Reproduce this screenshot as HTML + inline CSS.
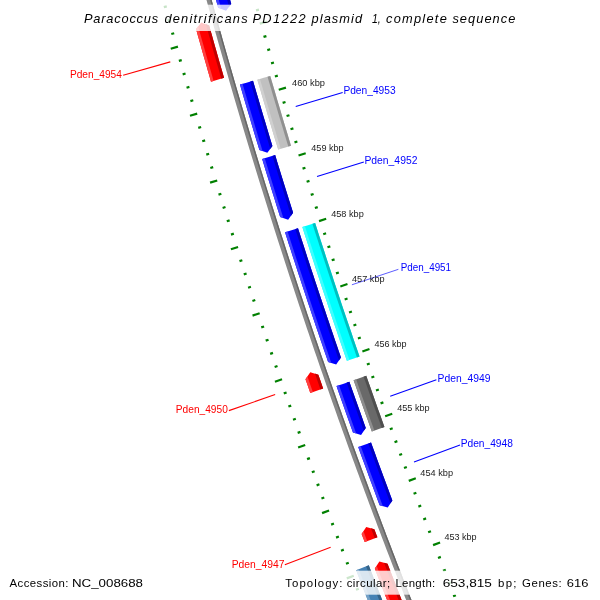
<!DOCTYPE html>
<html><head><meta charset="utf-8"><style>
html,body{margin:0;padding:0;background:#fff;}
svg{display:block;will-change:transform;}
text{font-family:"Liberation Sans",sans-serif;}
</style></head><body>
<svg width="600" height="600" viewBox="0 0 600 600">
<rect width="600" height="600" fill="#fff"/>
<polygon points="194.24,-45.34 195.78,-39.54 197.33,-33.74 198.89,-27.95 200.45,-22.15 202.02,-16.36 203.60,-10.57 205.18,-4.77 206.76,1.01 208.36,6.80 209.96,12.59 211.56,18.37 213.17,24.15 214.79,29.94 216.41,35.71 218.03,41.49 219.67,47.27 221.31,53.04 222.95,58.82 224.60,64.59 226.26,70.36 227.92,76.12 229.59,81.89 231.27,87.65 232.95,93.42 234.63,99.18 236.32,104.94 238.02,110.69 239.73,116.45 241.44,122.20 243.15,127.96 244.87,133.71 246.60,139.45 248.33,145.20 250.07,150.95 251.81,156.69 253.56,162.43 255.32,168.17 257.08,173.91 258.85,179.65 260.62,185.38 262.40,191.11 264.19,196.84 265.98,202.57 267.78,208.30 269.58,214.03 271.39,219.75 273.20,225.47 275.02,231.19 276.85,236.91 278.68,242.63 280.51,248.34 282.36,254.05 284.21,259.76 286.06,265.47 287.92,271.18 289.79,276.89 291.66,282.59 293.54,288.29 295.42,293.99 297.31,299.69 299.21,305.38 301.11,311.08 303.01,316.77 304.93,322.46 306.84,328.14 308.77,333.83 310.70,339.51 312.63,345.20 314.57,350.88 316.52,356.55 318.47,362.23 320.43,367.90 322.40,373.58 324.37,379.25 326.34,384.91 328.32,390.58 330.31,396.24 332.30,401.91 334.30,407.57 336.31,413.22 338.32,418.88 340.33,424.53 342.36,430.19 344.38,435.84 346.42,441.48 348.46,447.13 350.50,452.77 352.55,458.41 354.61,464.05 356.67,469.69 358.74,475.33 360.81,480.96 362.89,486.59 364.97,492.22 367.06,497.85 369.16,503.47 371.26,509.09 373.37,514.71 375.48,520.33 377.60,525.95 379.72,531.56 381.85,537.17 383.99,542.78 386.13,548.39 388.28,554.00 390.43,559.60 392.59,565.20 394.75,570.80 396.92,576.40 399.10,581.99 401.28,587.58 403.47,593.17 405.66,598.76 407.86,604.35 410.06,609.93 412.27,615.51 414.49,621.09 416.71,626.67 418.93,632.24 421.17,637.81 423.40,643.38 425.65,648.95 427.90,654.52 430.15,660.08 432.41,665.64 437.04,663.75 434.78,658.20 432.53,652.64 430.28,647.08 428.04,641.52 425.81,635.95 423.58,630.38 421.35,624.81 419.13,619.24 416.92,613.67 414.71,608.09 412.51,602.51 410.31,596.93 408.12,591.35 405.94,585.76 403.76,580.18 401.58,574.59 399.42,568.99 397.25,563.40 395.10,557.80 392.95,552.21 390.80,546.61 388.66,541.00 386.53,535.40 384.40,529.79 382.28,524.18 380.16,518.57 378.05,512.96 375.94,507.34 373.84,501.72 371.75,496.10 369.66,490.48 367.58,484.86 365.50,479.23 363.43,473.60 361.36,467.97 359.30,462.34 357.25,456.70 355.20,451.07 353.16,445.43 351.12,439.79 349.09,434.14 347.06,428.50 345.04,422.85 343.03,417.20 341.02,411.55 339.02,405.90 337.02,400.24 335.03,394.59 333.04,388.93 331.06,383.27 329.09,377.60 327.12,371.94 325.16,366.27 323.20,360.60 321.25,354.93 319.31,349.26 317.37,343.58 315.43,337.90 313.50,332.23 311.58,326.54 309.66,320.86 307.75,315.18 305.85,309.49 303.95,303.80 302.06,298.11 300.17,292.42 298.29,286.72 296.41,281.03 294.54,275.33 292.67,269.63 290.82,263.93 288.96,258.22 287.12,252.52 285.27,246.81 283.44,241.10 281.61,235.39 279.78,229.67 277.97,223.96 276.15,218.24 274.35,212.52 272.55,206.80 270.75,201.08 268.96,195.36 267.18,189.63 265.40,183.90 263.63,178.17 261.86,172.44 260.10,166.71 258.35,160.97 256.60,155.24 254.85,149.50 253.12,143.76 251.39,138.01 249.66,132.27 247.94,126.52 246.23,120.78 244.52,115.03 242.82,109.28 241.12,103.52 239.43,97.77 237.75,92.01 236.07,86.26 234.39,80.50 232.73,74.74 231.07,68.97 229.41,63.21 227.76,57.44 226.12,51.67 224.48,45.91 222.85,40.13 221.22,34.36 219.60,28.59 217.99,22.81 216.38,17.03 214.77,11.25 213.18,5.47 211.59,-0.31 210.00,-6.09 208.42,-11.88 206.85,-17.67 205.28,-23.46 203.72,-29.25 202.16,-35.04 200.61,-40.83 199.07,-46.63" fill="#888888"/>
<polygon points="194.24,-45.34 195.78,-39.54 197.33,-33.74 198.89,-27.95 200.45,-22.15 202.02,-16.36 203.60,-10.57 205.18,-4.77 206.76,1.01 208.36,6.80 209.96,12.59 211.56,18.37 213.17,24.15 214.79,29.94 216.41,35.71 218.03,41.49 219.67,47.27 221.31,53.04 222.95,58.82 224.60,64.59 226.26,70.36 227.92,76.12 229.59,81.89 231.27,87.65 232.95,93.42 234.63,99.18 236.32,104.94 238.02,110.69 239.73,116.45 241.44,122.20 243.15,127.96 244.87,133.71 246.60,139.45 248.33,145.20 250.07,150.95 251.81,156.69 253.56,162.43 255.32,168.17 257.08,173.91 258.85,179.65 260.62,185.38 262.40,191.11 264.19,196.84 265.98,202.57 267.78,208.30 269.58,214.03 271.39,219.75 273.20,225.47 275.02,231.19 276.85,236.91 278.68,242.63 280.51,248.34 282.36,254.05 284.21,259.76 286.06,265.47 287.92,271.18 289.79,276.89 291.66,282.59 293.54,288.29 295.42,293.99 297.31,299.69 299.21,305.38 301.11,311.08 303.01,316.77 304.93,322.46 306.84,328.14 308.77,333.83 310.70,339.51 312.63,345.20 314.57,350.88 316.52,356.55 318.47,362.23 320.43,367.90 322.40,373.58 324.37,379.25 326.34,384.91 328.32,390.58 330.31,396.24 332.30,401.91 334.30,407.57 336.31,413.22 338.32,418.88 340.33,424.53 342.36,430.19 344.38,435.84 346.42,441.48 348.46,447.13 350.50,452.77 352.55,458.41 354.61,464.05 356.67,469.69 358.74,475.33 360.81,480.96 362.89,486.59 364.97,492.22 367.06,497.85 369.16,503.47 371.26,509.09 373.37,514.71 375.48,520.33 377.60,525.95 379.72,531.56 381.85,537.17 383.99,542.78 386.13,548.39 388.28,554.00 390.43,559.60 392.59,565.20 394.75,570.80 396.92,576.40 399.10,581.99 401.28,587.58 403.47,593.17 405.66,598.76 407.86,604.35 410.06,609.93 412.27,615.51 414.49,621.09 416.71,626.67 418.93,632.24 421.17,637.81 423.40,643.38 425.65,648.95 427.90,654.52 430.15,660.08 432.41,665.64 432.41,665.64 430.15,660.08 427.90,654.52 425.65,648.95 423.40,643.38 421.17,637.81 418.93,632.24 416.71,626.67 414.49,621.09 412.27,615.51 410.06,609.93 407.86,604.35 405.66,598.76 403.47,593.17 401.28,587.58 399.10,581.99 396.92,576.40 394.75,570.80 392.59,565.20 390.43,559.60 388.28,554.00 386.13,548.39 383.99,542.78 381.85,537.17 379.72,531.56 377.60,525.95 375.48,520.33 373.37,514.71 371.26,509.09 369.16,503.47 367.06,497.85 364.97,492.22 362.89,486.59 360.81,480.96 358.74,475.33 356.67,469.69 354.61,464.05 352.55,458.41 350.50,452.77 348.46,447.13 346.42,441.48 344.38,435.84 342.36,430.19 340.33,424.53 338.32,418.88 336.31,413.22 334.30,407.57 332.30,401.91 330.31,396.24 328.32,390.58 326.34,384.91 324.37,379.25 322.40,373.58 320.43,367.90 318.47,362.23 316.52,356.55 314.57,350.88 312.63,345.20 310.70,339.51 308.77,333.83 306.84,328.14 304.93,322.46 303.01,316.77 301.11,311.08 299.21,305.38 297.31,299.69 295.42,293.99 293.54,288.29 291.66,282.59 289.79,276.89 287.92,271.18 286.06,265.47 284.21,259.76 282.36,254.05 280.51,248.34 278.68,242.63 276.85,236.91 275.02,231.19 273.20,225.47 271.39,219.75 269.58,214.03 267.78,208.30 265.98,202.57 264.19,196.84 262.40,191.11 260.62,185.38 258.85,179.65 257.08,173.91 255.32,168.17 253.56,162.43 251.81,156.69 250.07,150.95 248.33,145.20 246.60,139.45 244.87,133.71 243.15,127.96 241.44,122.20 239.73,116.45 238.02,110.69 236.32,104.94 234.63,99.18 232.95,93.42 231.27,87.65 229.59,81.89 227.92,76.12 226.26,70.36 224.60,64.59 222.95,58.82 221.31,53.04 219.67,47.27 218.03,41.49 216.41,35.71 214.79,29.94 213.17,24.15 211.56,18.37 209.96,12.59 208.36,6.80 206.76,1.01 205.18,-4.77 203.60,-10.57 202.02,-16.36 200.45,-22.15 198.89,-27.95 197.33,-33.74 195.78,-39.54 194.24,-45.34" fill="#a6a6a6"/>
<polygon points="435.65,664.32 437.04,663.75 434.78,658.20 432.53,652.64 430.28,647.08 428.04,641.52 425.81,635.95 423.58,630.38 421.35,624.81 419.13,619.24 416.92,613.67 414.71,608.09 412.51,602.51 410.31,596.93 408.12,591.35 405.94,585.76 403.76,580.18 401.58,574.59 399.42,568.99 397.25,563.40 395.10,557.80 392.95,552.21 390.80,546.61 388.66,541.00 386.53,535.40 384.40,529.79 382.28,524.18 380.16,518.57 378.05,512.96 375.94,507.34 373.84,501.72 371.75,496.10 369.66,490.48 367.58,484.86 365.50,479.23 363.43,473.60 361.36,467.97 359.30,462.34 357.25,456.70 355.20,451.07 353.16,445.43 351.12,439.79 349.09,434.14 347.06,428.50 345.04,422.85 343.03,417.20 341.02,411.55 339.02,405.90 337.02,400.24 335.03,394.59 333.04,388.93 331.06,383.27 329.09,377.60 327.12,371.94 325.16,366.27 323.20,360.60 321.25,354.93 319.31,349.26 317.37,343.58 315.43,337.90 313.50,332.23 311.58,326.54 309.66,320.86 307.75,315.18 305.85,309.49 303.95,303.80 302.06,298.11 300.17,292.42 298.29,286.72 296.41,281.03 294.54,275.33 292.67,269.63 290.82,263.93 288.96,258.22 287.12,252.52 285.27,246.81 283.44,241.10 281.61,235.39 279.78,229.67 277.97,223.96 276.15,218.24 274.35,212.52 272.55,206.80 270.75,201.08 268.96,195.36 267.18,189.63 265.40,183.90 263.63,178.17 261.86,172.44 260.10,166.71 258.35,160.97 256.60,155.24 254.85,149.50 253.12,143.76 251.39,138.01 249.66,132.27 247.94,126.52 246.23,120.78 244.52,115.03 242.82,109.28 241.12,103.52 239.43,97.77 237.75,92.01 236.07,86.26 234.39,80.50 232.73,74.74 231.07,68.97 229.41,63.21 227.76,57.44 226.12,51.67 224.48,45.91 222.85,40.13 221.22,34.36 219.60,28.59 217.99,22.81 216.38,17.03 214.77,11.25 213.18,5.47 211.59,-0.31 210.00,-6.09 208.42,-11.88 206.85,-17.67 205.28,-23.46 203.72,-29.25 202.16,-35.04 200.61,-40.83 199.07,-46.63 197.62,-46.24 199.16,-40.45 200.71,-34.65 202.27,-28.86 203.83,-23.06 205.40,-17.27 206.97,-11.49 208.55,-5.70 210.14,0.09 211.73,5.87 213.33,11.65 214.93,17.43 216.54,23.21 218.16,28.99 219.78,34.77 221.40,40.54 223.04,46.31 224.67,52.08 226.32,57.85 227.97,63.62 229.62,69.39 231.29,75.15 232.95,80.91 234.63,86.68 236.31,92.43 237.99,98.19 239.68,103.95 241.38,109.70 243.08,115.45 244.79,121.20 246.50,126.95 248.22,132.70 249.95,138.45 251.68,144.19 253.42,149.93 255.16,155.67 256.91,161.41 258.67,167.15 260.43,172.88 262.19,178.61 263.97,184.35 265.74,190.07 267.53,195.80 269.32,201.53 271.11,207.25 272.92,212.97 274.72,218.69 276.54,224.41 278.35,230.13 280.18,235.84 282.01,241.56 283.85,247.27 285.69,252.98 287.54,258.68 289.39,264.39 291.25,270.09 293.11,275.80 294.98,281.50 296.86,287.19 298.74,292.89 300.63,298.58 302.53,304.28 304.43,309.97 306.33,315.65 308.24,321.34 310.16,327.02 312.08,332.71 314.01,338.39 315.95,344.07 317.89,349.74 319.83,355.42 321.78,361.09 323.74,366.76 325.70,372.43 327.67,378.10 329.65,383.76 331.63,389.42 333.61,395.08 335.61,400.74 337.60,406.40 339.61,412.05 341.62,417.71 343.63,423.36 345.65,429.01 347.68,434.65 349.71,440.30 351.75,445.94 353.79,451.58 355.84,457.22 357.89,462.85 359.95,468.49 362.02,474.12 364.09,479.75 366.17,485.38 368.25,491.00 370.34,496.63 372.44,502.25 374.54,507.87 376.64,513.48 378.76,519.10 380.87,524.71 383.00,530.32 385.13,535.93 387.26,541.54 389.40,547.14 391.55,552.74 393.70,558.34 395.85,563.94 398.02,569.54 400.19,575.13 402.36,580.72 404.54,586.31 406.73,591.90 408.92,597.48 411.11,603.06 413.32,608.64 415.53,614.22 417.74,619.80 419.96,625.37 422.18,630.94 424.41,636.51 426.65,642.08 428.89,647.64 431.14,653.20 433.39,658.76" fill="#666666"/>
<polygon points="205.70,-38.06 207.46,-31.52 209.22,-24.99 210.98,-18.46 212.76,-11.94 214.54,-5.41 216.33,1.11 218.13,7.63 226.02,10.63 231.24,4.01 229.45,-2.50 227.66,-9.00 225.88,-15.51 224.11,-22.03 222.35,-28.54 220.59,-35.06 218.84,-41.57 212.27,-39.81" fill="#0000ff"/>
<polygon points="205.70,-38.06 207.46,-31.52 209.22,-24.99 210.98,-18.46 212.76,-11.94 214.54,-5.41 216.33,1.11 218.13,7.63 221.28,8.83 219.64,2.89 218.01,-3.06 216.38,-9.00 214.76,-14.95 213.14,-20.90 211.53,-26.85 209.93,-32.80 208.33,-38.76" fill="#4040ff"/>
<polygon points="229.04,6.79 231.24,4.01 229.45,-2.50 227.66,-9.00 225.88,-15.51 224.11,-22.03 222.35,-28.54 220.59,-35.06 218.84,-41.57 216.08,-40.83 217.68,-34.88 219.28,-28.92 220.90,-22.96 222.51,-17.01 224.14,-11.06 225.77,-5.11 227.40,0.84" fill="#0000bf"/>
<polygon points="201.26,22.38 196.05,29.03 197.69,34.89 199.33,40.74 200.98,46.58 202.63,52.43 204.29,58.28 205.96,64.12 207.63,69.96 209.31,75.80 210.99,81.64 217.52,79.75 224.05,77.87 222.38,72.04 220.70,66.21 219.03,60.39 217.37,54.56 215.72,48.72 214.07,42.89 212.42,37.05 210.78,31.22 209.15,25.38" fill="#ff0000"/>
<polygon points="198.13,26.37 196.05,29.03 197.69,34.89 199.33,40.74 200.98,46.58 202.63,52.43 204.29,58.28 205.96,64.12 207.63,69.96 209.31,75.80 210.99,81.64 213.60,80.89 211.86,74.84 210.12,68.78 208.39,62.73 206.66,56.68 204.94,50.62 203.23,44.56 201.53,38.50 199.83,32.44" fill="#ff4040"/>
<polygon points="221.31,78.66 224.05,77.87 222.38,72.04 220.70,66.21 219.03,60.39 217.37,54.56 215.72,48.72 214.07,42.89 212.42,37.05 210.78,31.22 209.15,25.38 205.84,24.12 207.53,30.19 209.23,36.25 210.94,42.32 212.65,48.38 214.37,54.44 216.09,60.50 217.83,66.55 219.57,72.61" fill="#bf0000"/>
<polygon points="239.96,84.60 241.70,90.56 243.44,96.51 245.19,102.46 246.94,108.41 248.70,114.36 250.47,120.30 252.24,126.24 254.02,132.19 255.81,138.13 257.60,144.06 259.40,150.00 267.35,152.80 272.41,146.05 270.62,140.13 268.83,134.20 267.05,128.28 265.27,122.35 263.50,116.42 261.74,110.49 259.98,104.56 258.23,98.62 256.49,92.68 254.75,86.74 253.02,80.80 246.49,82.70" fill="#0000ff"/>
<polygon points="239.96,84.60 241.70,90.56 243.44,96.51 245.19,102.46 246.94,108.41 248.70,114.36 250.47,120.30 252.24,126.24 254.02,132.19 255.81,138.13 257.60,144.06 259.40,150.00 262.58,151.12 260.73,145.01 258.88,138.90 257.04,132.79 255.21,126.68 253.39,120.57 251.57,114.45 249.75,108.33 247.95,102.21 246.15,96.09 244.36,89.97 242.57,83.84" fill="#4040ff"/>
<polygon points="270.29,148.88 272.41,146.05 270.62,140.13 268.83,134.20 267.05,128.28 265.27,122.35 263.50,116.42 261.74,110.49 259.98,104.56 258.23,98.62 256.49,92.68 254.75,86.74 253.02,80.80 250.28,81.60 252.06,87.73 253.85,93.85 255.65,99.97 257.46,106.09 259.27,112.21 261.09,118.33 262.92,124.44 264.75,130.56 266.59,136.67 268.43,142.78" fill="#0000bf"/>
<polygon points="257.37,79.64 259.07,85.48 260.78,91.32 262.49,97.16 264.21,102.99 265.94,108.82 267.67,114.65 269.41,120.48 271.15,126.31 272.91,132.14 274.66,137.96 276.42,143.78 278.19,149.60 284.60,147.65 291.01,145.70 289.25,139.89 287.49,134.08 285.74,128.27 283.99,122.46 282.25,116.65 280.51,110.83 278.79,105.01 277.06,99.19 275.35,93.37 273.64,87.55 271.93,81.73 270.23,75.90 263.80,77.77" fill="#c0c0c0"/>
<polygon points="257.37,79.64 259.07,85.48 260.78,91.32 262.49,97.16 264.21,102.99 265.94,108.82 267.67,114.65 269.41,120.48 271.15,126.31 272.91,132.14 274.66,137.96 276.42,143.78 278.19,149.60 280.76,148.82 278.99,143.00 277.23,137.18 275.47,131.36 273.72,125.54 271.98,119.72 270.24,113.89 268.51,108.06 266.78,102.23 265.06,96.40 263.35,90.57 261.64,84.73 259.94,78.89" fill="#d0d0d0"/>
<polygon points="288.32,146.52 291.01,145.70 289.25,139.89 287.49,134.08 285.74,128.27 283.99,122.46 282.25,116.65 280.51,110.83 278.79,105.01 277.06,99.19 275.35,93.37 273.64,87.55 271.93,81.73 270.23,75.90 267.53,76.69 269.23,82.51 270.94,88.34 272.65,94.17 274.37,99.99 276.09,105.81 277.82,111.63 279.55,117.45 281.29,123.27 283.04,129.08 284.80,134.90 286.55,140.71" fill="#909090"/>
<polygon points="262.16,159.08 263.93,164.87 265.71,170.67 267.50,176.47 269.29,182.26 271.08,188.05 272.89,193.84 274.70,199.62 276.51,205.41 278.33,211.19 280.16,216.97 288.15,219.68 293.12,212.87 291.30,207.10 289.48,201.33 287.67,195.56 285.87,189.79 284.07,184.01 282.28,178.23 280.49,172.45 278.71,166.67 276.94,160.89 275.17,155.11 268.66,157.09" fill="#0000ff"/>
<polygon points="262.16,159.08 263.93,164.87 265.71,170.67 267.50,176.47 269.29,182.26 271.08,188.05 272.89,193.84 274.70,199.62 276.51,205.41 278.33,211.19 280.16,216.97 283.35,218.06 281.47,212.09 279.58,206.12 277.71,200.15 275.84,194.17 273.98,188.19 272.12,182.22 270.27,176.24 268.43,170.25 266.59,164.27 264.76,158.28" fill="#4040ff"/>
<polygon points="291.03,215.73 293.12,212.87 291.30,207.10 289.48,201.33 287.67,195.56 285.87,189.79 284.07,184.01 282.28,178.23 280.49,172.45 278.71,166.67 276.94,160.89 275.17,155.11 272.43,155.94 274.27,161.93 276.10,167.91 277.95,173.90 279.80,179.88 281.65,185.86 283.52,191.84 285.39,197.81 287.26,203.79 289.14,209.76" fill="#0000bf"/>
<polygon points="285.03,232.30 286.92,238.22 288.82,244.13 290.73,250.04 292.64,255.95 294.56,261.86 296.48,267.76 298.41,273.67 300.35,279.57 302.29,285.47 304.24,291.36 306.20,297.26 308.16,303.15 310.13,309.04 312.10,314.93 314.08,320.82 316.07,326.71 318.06,332.59 320.06,338.47 322.07,344.35 324.08,350.22 326.09,356.10 328.12,361.97 336.17,364.47 340.97,357.53 338.95,351.68 336.94,345.81 334.93,339.95 332.93,334.09 330.94,328.22 328.95,322.35 326.97,316.48 325.00,310.60 323.03,304.73 321.06,298.85 319.11,292.97 317.15,287.09 315.21,281.21 313.27,275.32 311.34,269.43 309.41,263.54 307.49,257.65 305.58,251.76 303.67,245.86 301.77,239.96 299.87,234.06 297.99,228.16 291.51,230.23" fill="#0000ff"/>
<polygon points="285.03,232.30 286.92,238.22 288.82,244.13 290.73,250.04 292.64,255.95 294.56,261.86 296.48,267.76 298.41,273.67 300.35,279.57 302.29,285.47 304.24,291.36 306.20,297.26 308.16,303.15 310.13,309.04 312.10,314.93 314.08,320.82 316.07,326.71 318.06,332.59 320.06,338.47 322.07,344.35 324.08,350.22 326.09,356.10 328.12,361.97 331.34,362.97 329.37,357.28 327.42,351.58 325.46,345.88 323.52,340.18 321.57,334.47 319.64,328.77 317.71,323.06 315.78,317.35 313.87,311.64 311.95,305.92 310.05,300.21 308.15,294.49 306.25,288.77 304.36,283.05 302.48,277.33 300.60,271.60 298.73,265.87 296.86,260.15 295.00,254.41 293.15,248.68 291.30,242.95 289.46,237.21 287.62,231.47" fill="#4040ff"/>
<polygon points="338.96,360.45 340.97,357.53 338.95,351.68 336.94,345.81 334.93,339.95 332.93,334.09 330.94,328.22 328.95,322.35 326.97,316.48 325.00,310.60 323.03,304.73 321.06,298.85 319.11,292.97 317.15,287.09 315.21,281.21 313.27,275.32 311.34,269.43 309.41,263.54 307.49,257.65 305.58,251.76 303.67,245.86 301.77,239.96 299.87,234.06 297.99,228.16 295.27,229.03 297.10,234.77 298.94,240.50 300.79,246.23 302.64,251.96 304.50,257.69 306.37,263.41 308.24,269.13 310.11,274.86 311.99,280.58 313.88,286.29 315.78,292.01 317.68,297.72 319.58,303.43 321.49,309.14 323.41,314.85 325.33,320.56 327.26,326.26 329.20,331.96 331.14,337.66 333.08,343.36 335.03,349.06 336.99,354.75" fill="#0000bf"/>
<polygon points="302.36,227.08 304.23,232.92 306.11,238.75 307.99,244.59 309.88,250.42 311.77,256.25 313.67,262.08 315.57,267.91 317.49,273.73 319.40,279.56 321.33,285.38 323.26,291.20 325.19,297.01 327.13,302.83 329.08,308.64 331.04,314.45 333.00,320.26 334.96,326.07 336.93,331.87 338.91,337.68 340.90,343.48 342.89,349.27 344.88,355.07 346.89,360.87 353.22,358.67 359.55,356.48 357.55,350.70 355.56,344.92 353.57,339.13 351.59,333.35 349.62,327.56 347.65,321.76 345.69,315.97 343.74,310.17 341.79,304.38 339.84,298.58 337.91,292.77 335.97,286.97 334.05,281.17 332.13,275.36 330.22,269.55 328.31,263.74 326.41,257.92 324.51,252.11 322.62,246.29 320.74,240.47 318.86,234.65 316.99,228.82 315.13,223.00 308.75,225.04" fill="#00ffff"/>
<polygon points="302.36,227.08 304.23,232.92 306.11,238.75 307.99,244.59 309.88,250.42 311.77,256.25 313.67,262.08 315.57,267.91 317.49,273.73 319.40,279.56 321.33,285.38 323.26,291.20 325.19,297.01 327.13,302.83 329.08,308.64 331.04,314.45 333.00,320.26 334.96,326.07 336.93,331.87 338.91,337.68 340.90,343.48 342.89,349.27 344.88,355.07 346.89,360.87 349.42,359.99 347.42,354.20 345.42,348.40 343.43,342.61 341.45,336.81 339.47,331.01 337.50,325.21 335.54,319.40 333.58,313.60 331.62,307.79 329.68,301.98 327.74,296.16 325.80,290.35 323.87,284.53 321.95,278.72 320.03,272.90 318.12,267.07 316.22,261.25 314.32,255.42 312.43,249.59 310.54,243.76 308.66,237.93 306.78,232.10 304.92,226.26" fill="#40ffff"/>
<polygon points="356.89,357.40 359.55,356.48 357.55,350.70 355.56,344.92 353.57,339.13 351.59,333.35 349.62,327.56 347.65,321.76 345.69,315.97 343.74,310.17 341.79,304.38 339.84,298.58 337.91,292.77 335.97,286.97 334.05,281.17 332.13,275.36 330.22,269.55 328.31,263.74 326.41,257.92 324.51,252.11 322.62,246.29 320.74,240.47 318.86,234.65 316.99,228.82 315.13,223.00 312.45,223.85 314.31,229.68 316.18,235.51 318.06,241.33 319.95,247.16 321.84,252.98 323.73,258.79 325.63,264.61 327.54,270.43 329.46,276.24 331.38,282.05 333.30,287.86 335.24,293.66 337.17,299.47 339.12,305.27 341.07,311.07 343.03,316.87 344.99,322.67 346.96,328.46 348.93,334.25 350.91,340.04 352.90,345.83 354.89,351.62" fill="#00bfbf"/>
<polygon points="310.27,372.16 305.48,379.13 307.89,386.04 310.30,392.96 316.72,390.72 323.14,388.47 320.73,381.57 318.33,374.67" fill="#ff0000"/>
<polygon points="307.39,376.34 305.48,379.13 307.89,386.04 310.30,392.96 312.87,392.06 310.12,384.20" fill="#ff4040"/>
<polygon points="320.44,389.42 323.14,388.47 320.73,381.57 318.33,374.67 314.94,373.62 317.69,381.52" fill="#bf0000"/>
<polygon points="336.51,386.12 338.55,391.93 340.59,397.74 342.64,403.55 344.69,409.35 346.76,415.15 348.82,420.95 350.89,426.74 352.97,432.54 361.06,434.93 365.77,427.94 363.70,422.16 361.63,416.37 359.57,410.59 357.51,404.80 355.46,399.01 353.42,393.22 351.38,387.43 349.35,381.63 342.93,383.88" fill="#0000ff"/>
<polygon points="336.51,386.12 338.55,391.93 340.59,397.74 342.64,403.55 344.69,409.35 346.76,415.15 348.82,420.95 350.89,426.74 352.97,432.54 356.21,433.50 354.04,427.47 351.89,421.44 349.74,415.41 347.59,409.38 345.45,403.34 343.32,397.31 341.20,391.27 339.08,385.23" fill="#4040ff"/>
<polygon points="363.79,430.87 365.77,427.94 363.70,422.16 361.63,416.37 359.57,410.59 357.51,404.80 355.46,399.01 353.42,393.22 351.38,387.43 349.35,381.63 346.65,382.58 348.77,388.62 350.90,394.66 353.03,400.70 355.17,406.74 357.32,412.78 359.47,418.81 361.63,424.84" fill="#0000bf"/>
<polygon points="353.60,380.15 355.60,385.86 357.61,391.57 359.62,397.27 361.64,402.98 363.67,408.68 365.70,414.38 367.74,420.08 369.78,425.78 371.83,431.47 378.13,429.20 384.43,426.93 382.39,421.25 380.35,415.57 378.32,409.88 376.29,404.19 374.27,398.50 372.25,392.81 370.24,387.11 368.24,381.42 366.24,375.72 359.92,377.93" fill="#696969"/>
<polygon points="353.60,380.15 355.60,385.86 357.61,391.57 359.62,397.27 361.64,402.98 363.67,408.68 365.70,414.38 367.74,420.08 369.78,425.78 371.83,431.47 374.35,430.57 372.30,424.87 370.26,419.18 368.22,413.48 366.19,407.78 364.17,402.08 362.15,396.38 360.13,390.68 358.13,384.97 356.13,379.26" fill="#8e8e8e"/>
<polygon points="381.79,427.89 384.43,426.93 382.39,421.25 380.35,415.57 378.32,409.88 376.29,404.19 374.27,398.50 372.25,392.81 370.24,387.11 368.24,381.42 366.24,375.72 363.59,376.65 365.59,382.35 367.59,388.05 369.60,393.75 371.62,399.44 373.64,405.13 375.67,410.82 377.70,416.51 379.74,422.20" fill="#4f4f4f"/>
<polygon points="358.23,447.10 360.34,452.92 362.46,458.74 364.59,464.56 366.72,470.37 368.85,476.18 371.00,481.99 373.15,487.80 375.30,493.61 377.46,499.41 379.63,505.21 387.75,507.50 392.37,500.45 390.21,494.66 388.05,488.87 385.90,483.08 383.75,477.28 381.62,471.48 379.48,465.69 377.36,459.88 375.24,454.08 373.12,448.27 371.02,442.47 364.62,444.78" fill="#0000ff"/>
<polygon points="358.23,447.10 360.34,452.92 362.46,458.74 364.59,464.56 366.72,470.37 368.85,476.18 371.00,481.99 373.15,487.80 375.30,493.61 377.46,499.41 379.63,505.21 382.88,506.13 380.64,500.15 378.41,494.16 376.18,488.17 373.96,482.18 371.75,476.18 369.55,470.18 367.35,464.19 365.15,458.18 362.97,452.18 360.79,446.17" fill="#4040ff"/>
<polygon points="390.43,503.41 392.37,500.45 390.21,494.66 388.05,488.87 385.90,483.08 383.75,477.28 381.62,471.48 379.48,465.69 377.36,459.88 375.24,454.08 373.12,448.27 371.02,442.47 368.33,443.44 370.51,449.45 372.70,455.45 374.89,461.46 377.09,467.46 379.30,473.45 381.51,479.45 383.73,485.44 385.96,491.43 388.19,497.42" fill="#0000bf"/>
<polygon points="366.21,526.93 361.62,534.02 364.68,542.09 371.04,539.68 377.39,537.26 374.34,529.21" fill="#ff0000"/>
<polygon points="363.46,531.18 361.62,534.02 364.68,542.09 367.22,541.13" fill="#ff4040"/>
<polygon points="374.72,538.28 377.39,537.26 374.34,529.21 370.93,528.26" fill="#bf0000"/>
<polygon points="379.37,561.49 374.83,568.61 377.06,574.40 379.30,580.18 381.54,585.96 383.79,591.73 386.05,597.51 388.31,603.28 390.58,609.05 392.85,614.81 395.13,620.58 397.42,626.34 399.71,632.10 402.01,637.86 404.31,643.61 406.62,649.36 408.94,655.11 411.26,660.86 413.59,666.61 415.93,672.35 422.22,669.79 428.52,667.22 426.19,661.49 423.87,655.76 421.55,650.03 419.24,644.29 416.94,638.55 414.64,632.81 412.35,627.06 410.06,621.32 407.78,615.57 405.50,609.82 403.23,604.07 400.97,598.31 398.71,592.55 396.46,586.79 394.22,581.03 391.98,575.26 389.75,569.49 387.52,563.72" fill="#ff0000"/>
<polygon points="376.65,565.76 374.83,568.61 377.06,574.40 379.30,580.18 381.54,585.96 383.79,591.73 386.05,597.51 388.31,603.28 390.58,609.05 392.85,614.81 395.13,620.58 397.42,626.34 399.71,632.10 402.01,637.86 404.31,643.61 406.62,649.36 408.94,655.11 411.26,660.86 413.59,666.61 415.93,672.35 418.45,671.32 416.07,665.48 413.70,659.64 411.34,653.79 408.98,647.94 406.63,642.08 404.29,636.23 401.95,630.37 399.62,624.51 397.29,618.64 394.97,612.78 392.66,606.91 390.35,601.04 388.05,595.17 385.76,589.29 383.47,583.41 381.19,577.53 378.91,571.65" fill="#ff4040"/>
<polygon points="425.88,668.30 428.52,667.22 426.19,661.49 423.87,655.76 421.55,650.03 419.24,644.29 416.94,638.55 414.64,632.81 412.35,627.06 410.06,621.32 407.78,615.57 405.50,609.82 403.23,604.07 400.97,598.31 398.71,592.55 396.46,586.79 394.22,581.03 391.98,575.26 389.75,569.49 387.52,563.72 384.10,562.79 386.37,568.67 388.64,574.55 390.92,580.43 393.21,586.30 395.50,592.18 397.80,598.05 400.10,603.92 402.42,609.78 404.73,615.64 407.06,621.50 409.39,627.36 411.73,633.22 414.07,639.07 416.42,644.92 418.77,650.77 421.14,656.62 423.50,662.46" fill="#bf0000"/>
<polygon points="356.15,570.20 358.37,575.96 360.59,581.71 362.82,587.46 365.05,593.21 367.29,598.95 369.53,604.69 371.78,610.43 374.04,616.17 376.30,621.91 378.57,627.64 380.84,633.37 383.13,639.10 385.41,644.83 387.70,650.55 390.00,656.27 392.31,661.99 394.62,667.71 396.93,673.42 399.25,679.14 405.51,676.59 411.76,674.05 409.44,668.35 407.13,662.65 404.83,656.94 402.53,651.24 400.23,645.53 397.95,639.82 395.67,634.10 393.39,628.39 391.12,622.67 388.86,616.95 386.60,611.23 384.35,605.50 382.10,599.77 379.86,594.04 377.63,588.31 375.40,582.58 373.18,576.84 370.96,571.10 368.75,565.36 362.45,567.78" fill="#4682b4"/>
<polygon points="356.15,570.20 358.37,575.96 360.59,581.71 362.82,587.46 365.05,593.21 367.29,598.95 369.53,604.69 371.78,610.43 374.04,616.17 376.30,621.91 378.57,627.64 380.84,633.37 383.13,639.10 385.41,644.83 387.70,650.55 390.00,656.27 392.31,661.99 394.62,667.71 396.93,673.42 399.25,679.14 401.76,678.12 399.43,672.41 397.12,666.70 394.81,660.98 392.51,655.27 390.21,649.55 387.92,643.83 385.63,638.10 383.35,632.38 381.08,626.65 378.81,620.92 376.55,615.18 374.30,609.45 372.05,603.71 369.80,597.97 367.56,592.23 365.33,586.48 363.11,580.74 360.89,574.99 358.67,569.23" fill="#74a1c7"/>
<polygon points="409.13,675.12 411.76,674.05 409.44,668.35 407.13,662.65 404.83,656.94 402.53,651.24 400.23,645.53 397.95,639.82 395.67,634.10 393.39,628.39 391.12,622.67 388.86,616.95 386.60,611.23 384.35,605.50 382.10,599.77 379.86,594.04 377.63,588.31 375.40,582.58 373.18,576.84 370.96,571.10 368.75,565.36 366.11,566.38 368.32,572.12 370.54,577.86 372.76,583.60 374.99,589.34 377.22,595.07 379.46,600.81 381.71,606.54 383.96,612.26 386.22,617.99 388.49,623.71 390.76,629.43 393.03,635.15 395.31,640.87 397.60,646.58 399.90,652.29 402.20,658.00 404.50,663.71 406.81,669.41" fill="#346287"/>
<line x1="248.74" y1="-16.06" x2="251.64" y2="-16.85" stroke="#008000" stroke-width="2.2"/>
<line x1="166.76" y1="6.37" x2="163.87" y2="7.17" stroke="#008000" stroke-width="2.2"/>
<line x1="252.39" y1="-2.81" x2="255.28" y2="-3.61" stroke="#008000" stroke-width="2.2"/>
<line x1="170.45" y1="19.82" x2="167.56" y2="20.62" stroke="#008000" stroke-width="2.2"/>
<line x1="256.06" y1="10.43" x2="258.95" y2="9.63" stroke="#008000" stroke-width="2.2"/>
<line x1="174.18" y1="33.25" x2="171.29" y2="34.06" stroke="#008000" stroke-width="2.2"/>
<line x1="259.77" y1="23.67" x2="266.99" y2="21.64" stroke="#008000" stroke-width="2.2"/>
<line x1="177.94" y1="46.68" x2="170.72" y2="48.71" stroke="#008000" stroke-width="2.2"/>
<line x1="263.50" y1="36.89" x2="266.39" y2="36.07" stroke="#008000" stroke-width="2.2"/>
<line x1="181.73" y1="60.09" x2="178.84" y2="60.91" stroke="#008000" stroke-width="2.2"/>
<line x1="267.27" y1="50.11" x2="270.15" y2="49.28" stroke="#008000" stroke-width="2.2"/>
<line x1="185.55" y1="73.50" x2="182.66" y2="74.33" stroke="#008000" stroke-width="2.2"/>
<line x1="271.06" y1="63.32" x2="273.95" y2="62.49" stroke="#008000" stroke-width="2.2"/>
<line x1="189.40" y1="86.90" x2="186.52" y2="87.73" stroke="#008000" stroke-width="2.2"/>
<line x1="274.89" y1="76.52" x2="277.77" y2="75.68" stroke="#008000" stroke-width="2.2"/>
<line x1="193.28" y1="100.29" x2="190.40" y2="101.13" stroke="#008000" stroke-width="2.2"/>
<line x1="278.75" y1="89.71" x2="285.95" y2="87.59" stroke="#008000" stroke-width="2.2"/>
<line x1="197.20" y1="113.67" x2="190.00" y2="115.78" stroke="#008000" stroke-width="2.2"/>
<line x1="282.64" y1="102.89" x2="285.52" y2="102.03" stroke="#008000" stroke-width="2.2"/>
<line x1="201.15" y1="127.04" x2="198.27" y2="127.89" stroke="#008000" stroke-width="2.2"/>
<line x1="286.56" y1="116.06" x2="289.44" y2="115.20" stroke="#008000" stroke-width="2.2"/>
<line x1="205.12" y1="140.40" x2="202.25" y2="141.26" stroke="#008000" stroke-width="2.2"/>
<line x1="290.51" y1="129.22" x2="293.39" y2="128.35" stroke="#008000" stroke-width="2.2"/>
<line x1="209.13" y1="153.76" x2="206.26" y2="154.62" stroke="#008000" stroke-width="2.2"/>
<line x1="294.50" y1="142.37" x2="297.37" y2="141.50" stroke="#008000" stroke-width="2.2"/>
<line x1="213.17" y1="167.10" x2="210.30" y2="167.97" stroke="#008000" stroke-width="2.2"/>
<line x1="298.51" y1="155.52" x2="305.68" y2="153.32" stroke="#008000" stroke-width="2.2"/>
<line x1="217.24" y1="180.43" x2="210.07" y2="182.63" stroke="#008000" stroke-width="2.2"/>
<line x1="302.55" y1="168.65" x2="305.42" y2="167.77" stroke="#008000" stroke-width="2.2"/>
<line x1="221.34" y1="193.76" x2="218.48" y2="194.64" stroke="#008000" stroke-width="2.2"/>
<line x1="306.63" y1="181.78" x2="309.49" y2="180.88" stroke="#008000" stroke-width="2.2"/>
<line x1="225.48" y1="207.07" x2="222.61" y2="207.96" stroke="#008000" stroke-width="2.2"/>
<line x1="310.73" y1="194.89" x2="313.59" y2="193.99" stroke="#008000" stroke-width="2.2"/>
<line x1="229.64" y1="220.38" x2="226.78" y2="221.28" stroke="#008000" stroke-width="2.2"/>
<line x1="314.87" y1="208.00" x2="317.73" y2="207.09" stroke="#008000" stroke-width="2.2"/>
<line x1="233.84" y1="233.67" x2="230.98" y2="234.58" stroke="#008000" stroke-width="2.2"/>
<line x1="319.03" y1="221.09" x2="326.18" y2="218.81" stroke="#008000" stroke-width="2.2"/>
<line x1="238.06" y1="246.96" x2="230.92" y2="249.24" stroke="#008000" stroke-width="2.2"/>
<line x1="323.23" y1="234.18" x2="326.09" y2="233.26" stroke="#008000" stroke-width="2.2"/>
<line x1="242.32" y1="260.23" x2="239.47" y2="261.15" stroke="#008000" stroke-width="2.2"/>
<line x1="327.46" y1="247.26" x2="330.31" y2="246.33" stroke="#008000" stroke-width="2.2"/>
<line x1="246.61" y1="273.50" x2="243.76" y2="274.42" stroke="#008000" stroke-width="2.2"/>
<line x1="331.72" y1="260.32" x2="334.57" y2="259.39" stroke="#008000" stroke-width="2.2"/>
<line x1="250.93" y1="286.75" x2="248.08" y2="287.69" stroke="#008000" stroke-width="2.2"/>
<line x1="336.00" y1="273.38" x2="338.85" y2="272.44" stroke="#008000" stroke-width="2.2"/>
<line x1="255.28" y1="300.00" x2="252.43" y2="300.94" stroke="#008000" stroke-width="2.2"/>
<line x1="340.32" y1="286.42" x2="347.44" y2="284.06" stroke="#008000" stroke-width="2.2"/>
<line x1="259.66" y1="313.23" x2="252.54" y2="315.60" stroke="#008000" stroke-width="2.2"/>
<line x1="344.67" y1="299.46" x2="347.52" y2="298.51" stroke="#008000" stroke-width="2.2"/>
<line x1="264.07" y1="326.46" x2="261.23" y2="327.41" stroke="#008000" stroke-width="2.2"/>
<line x1="349.05" y1="312.49" x2="351.90" y2="311.53" stroke="#008000" stroke-width="2.2"/>
<line x1="268.52" y1="339.67" x2="265.68" y2="340.63" stroke="#008000" stroke-width="2.2"/>
<line x1="353.46" y1="325.50" x2="356.30" y2="324.54" stroke="#008000" stroke-width="2.2"/>
<line x1="272.99" y1="352.88" x2="270.15" y2="353.84" stroke="#008000" stroke-width="2.2"/>
<line x1="357.90" y1="338.51" x2="360.74" y2="337.53" stroke="#008000" stroke-width="2.2"/>
<line x1="277.50" y1="366.07" x2="274.66" y2="367.04" stroke="#008000" stroke-width="2.2"/>
<line x1="362.38" y1="351.50" x2="369.46" y2="349.05" stroke="#008000" stroke-width="2.2"/>
<line x1="282.03" y1="379.25" x2="274.94" y2="381.70" stroke="#008000" stroke-width="2.2"/>
<line x1="366.88" y1="364.49" x2="369.71" y2="363.50" stroke="#008000" stroke-width="2.2"/>
<line x1="286.60" y1="392.42" x2="283.77" y2="393.41" stroke="#008000" stroke-width="2.2"/>
<line x1="371.41" y1="377.46" x2="374.24" y2="376.47" stroke="#008000" stroke-width="2.2"/>
<line x1="291.20" y1="405.59" x2="288.37" y2="406.58" stroke="#008000" stroke-width="2.2"/>
<line x1="375.97" y1="390.42" x2="378.80" y2="389.42" stroke="#008000" stroke-width="2.2"/>
<line x1="295.83" y1="418.74" x2="293.00" y2="419.74" stroke="#008000" stroke-width="2.2"/>
<line x1="380.56" y1="403.38" x2="383.39" y2="402.37" stroke="#008000" stroke-width="2.2"/>
<line x1="300.49" y1="431.88" x2="297.66" y2="432.88" stroke="#008000" stroke-width="2.2"/>
<line x1="385.19" y1="416.32" x2="392.25" y2="413.79" stroke="#008000" stroke-width="2.2"/>
<line x1="305.18" y1="445.00" x2="298.12" y2="447.54" stroke="#008000" stroke-width="2.2"/>
<line x1="389.84" y1="429.25" x2="392.66" y2="428.23" stroke="#008000" stroke-width="2.2"/>
<line x1="309.90" y1="458.12" x2="307.07" y2="459.14" stroke="#008000" stroke-width="2.2"/>
<line x1="394.52" y1="442.17" x2="397.34" y2="441.14" stroke="#008000" stroke-width="2.2"/>
<line x1="314.65" y1="471.23" x2="311.83" y2="472.26" stroke="#008000" stroke-width="2.2"/>
<line x1="399.24" y1="455.08" x2="402.06" y2="454.04" stroke="#008000" stroke-width="2.2"/>
<line x1="319.43" y1="484.33" x2="316.61" y2="485.36" stroke="#008000" stroke-width="2.2"/>
<line x1="403.98" y1="467.97" x2="406.80" y2="466.94" stroke="#008000" stroke-width="2.2"/>
<line x1="324.24" y1="497.41" x2="321.43" y2="498.45" stroke="#008000" stroke-width="2.2"/>
<line x1="408.76" y1="480.86" x2="415.79" y2="478.25" stroke="#008000" stroke-width="2.2"/>
<line x1="329.08" y1="510.48" x2="322.05" y2="513.10" stroke="#008000" stroke-width="2.2"/>
<line x1="413.56" y1="493.74" x2="416.37" y2="492.68" stroke="#008000" stroke-width="2.2"/>
<line x1="333.96" y1="523.54" x2="331.15" y2="524.60" stroke="#008000" stroke-width="2.2"/>
<line x1="418.39" y1="506.60" x2="421.20" y2="505.54" stroke="#008000" stroke-width="2.2"/>
<line x1="338.86" y1="536.59" x2="336.06" y2="537.65" stroke="#008000" stroke-width="2.2"/>
<line x1="423.26" y1="519.45" x2="426.06" y2="518.39" stroke="#008000" stroke-width="2.2"/>
<line x1="343.80" y1="549.63" x2="340.99" y2="550.70" stroke="#008000" stroke-width="2.2"/>
<line x1="428.15" y1="532.30" x2="430.96" y2="531.22" stroke="#008000" stroke-width="2.2"/>
<line x1="348.76" y1="562.66" x2="345.96" y2="563.73" stroke="#008000" stroke-width="2.2"/>
<line x1="433.08" y1="545.13" x2="440.08" y2="542.43" stroke="#008000" stroke-width="2.2"/>
<line x1="353.76" y1="575.68" x2="346.76" y2="578.37" stroke="#008000" stroke-width="2.2"/>
<line x1="438.03" y1="557.94" x2="440.83" y2="556.86" stroke="#008000" stroke-width="2.2"/>
<line x1="358.78" y1="588.68" x2="355.99" y2="589.77" stroke="#008000" stroke-width="2.2"/>
<line x1="443.02" y1="570.75" x2="445.81" y2="569.66" stroke="#008000" stroke-width="2.2"/>
<line x1="363.84" y1="601.67" x2="361.05" y2="602.76" stroke="#008000" stroke-width="2.2"/>
<line x1="448.03" y1="583.55" x2="450.82" y2="582.45" stroke="#008000" stroke-width="2.2"/>
<line x1="368.93" y1="614.65" x2="366.14" y2="615.75" stroke="#008000" stroke-width="2.2"/>
<line x1="453.08" y1="596.33" x2="455.86" y2="595.22" stroke="#008000" stroke-width="2.2"/>
<line x1="374.04" y1="627.62" x2="371.26" y2="628.73" stroke="#008000" stroke-width="2.2"/>
<line x1="458.15" y1="609.10" x2="465.12" y2="606.32" stroke="#008000" stroke-width="2.2"/>
<line x1="379.19" y1="640.58" x2="372.23" y2="643.35" stroke="#008000" stroke-width="2.2"/>
<line x1="463.25" y1="621.86" x2="466.04" y2="620.74" stroke="#008000" stroke-width="2.2"/>
<line x1="384.37" y1="653.52" x2="381.59" y2="654.64" stroke="#008000" stroke-width="2.2"/>
<line x1="468.39" y1="634.61" x2="471.17" y2="633.48" stroke="#008000" stroke-width="2.2"/>
<line x1="389.58" y1="666.45" x2="386.80" y2="667.58" stroke="#008000" stroke-width="2.2"/>
<line x1="473.55" y1="647.34" x2="476.33" y2="646.21" stroke="#008000" stroke-width="2.2"/>
<line x1="394.82" y1="679.37" x2="392.04" y2="680.50" stroke="#008000" stroke-width="2.2"/>
<line x1="295.70" y1="106.47" x2="342.66" y2="92.48" stroke="#0000ff" stroke-width="1.1"/>
<line x1="317.03" y1="176.51" x2="363.82" y2="161.95" stroke="#0000ff" stroke-width="1.1"/>
<line x1="351.90" y1="284.79" x2="398.39" y2="269.32" stroke="#3333ff" stroke-width="0.8"/>
<line x1="390.22" y1="396.20" x2="436.39" y2="379.80" stroke="#0000ff" stroke-width="1.1"/>
<line x1="414.03" y1="461.98" x2="460.00" y2="445.03" stroke="#0000ff" stroke-width="1.1"/>
<line x1="170.28" y1="61.89" x2="123.14" y2="75.25" stroke="#ff0000" stroke-width="1.1"/>
<line x1="275.16" y1="394.55" x2="228.88" y2="410.64" stroke="#ff0000" stroke-width="1.1"/>
<line x1="330.64" y1="547.36" x2="284.81" y2="564.71" stroke="#ff0000" stroke-width="1.1"/>
<text x="343.4" y="94" font-size="10.8" fill="#0000ff" textLength="52.22" lengthAdjust="spacingAndGlyphs">Pden_4953</text>
<text x="364.4" y="164" font-size="10.8" fill="#0000ff" textLength="53.04" lengthAdjust="spacingAndGlyphs">Pden_4952</text>
<text x="400.65" y="270.75" font-size="10.8" fill="#0000ff" textLength="50.45" lengthAdjust="spacingAndGlyphs">Pden_4951</text>
<text x="437.6" y="381.9" font-size="10.8" fill="#0000ff" textLength="52.83" lengthAdjust="spacingAndGlyphs">Pden_4949</text>
<text x="460.7" y="446.9" font-size="10.8" fill="#0000ff" textLength="52.22" lengthAdjust="spacingAndGlyphs">Pden_4948</text>
<text x="69.9" y="77.9" font-size="10.8" fill="#ff0000" textLength="52.02" lengthAdjust="spacingAndGlyphs">Pden_4954</text>
<text x="175.8" y="412.9" font-size="10.8" fill="#ff0000" textLength="52.02" lengthAdjust="spacingAndGlyphs">Pden_4950</text>
<text x="231.7" y="567.9" font-size="10.8" fill="#ff0000" textLength="52.84" lengthAdjust="spacingAndGlyphs">Pden_4947</text>
<text x="292.0" y="86.3" font-size="8.3" fill="#1a1a1a" textLength="33.0" lengthAdjust="spacingAndGlyphs">460 kbp</text>
<text x="311.3" y="151.1" font-size="8.3" fill="#1a1a1a" textLength="32.37" lengthAdjust="spacingAndGlyphs">459 kbp</text>
<text x="331.2" y="216.8" font-size="8.3" fill="#1a1a1a" textLength="32.58" lengthAdjust="spacingAndGlyphs">458 kbp</text>
<text x="352.0" y="282.1" font-size="8.3" fill="#1a1a1a" textLength="32.58" lengthAdjust="spacingAndGlyphs">457 kbp</text>
<text x="374.4" y="347.3" font-size="8.3" fill="#1a1a1a" textLength="32.17" lengthAdjust="spacingAndGlyphs">456 kbp</text>
<text x="397.2" y="411.1" font-size="8.3" fill="#1a1a1a" textLength="32.37" lengthAdjust="spacingAndGlyphs">455 kbp</text>
<text x="420.3" y="476.3" font-size="8.3" fill="#1a1a1a" textLength="32.72" lengthAdjust="spacingAndGlyphs">454 kbp</text>
<text x="444.4" y="540.3" font-size="8.3" fill="#1a1a1a" textLength="32.17" lengthAdjust="spacingAndGlyphs">453 kbp</text>
<rect x="78" y="4.7" width="444" height="26.3" fill="#fff" fill-opacity="0.78"/>
<rect x="4" y="570.7" width="148" height="24" fill="#fff" fill-opacity="0.8"/>
<rect x="281" y="570.7" width="314" height="24" fill="#fff" fill-opacity="0.8"/>
<text x="84.0" y="22.8" font-size="12.8" font-style="italic" fill="#000" textLength="74.15" lengthAdjust="spacing">Paracoccus</text>
<text x="164.4" y="22.8" font-size="12.8" font-style="italic" fill="#000" textLength="83.15" lengthAdjust="spacing">denitrificans</text>
<text x="252.4" y="22.8" font-size="12.8" font-style="italic" fill="#000" textLength="53.17" lengthAdjust="spacing">PD1222</text>
<text x="311.6" y="22.8" font-size="12.8" font-style="italic" fill="#000" textLength="50.48" lengthAdjust="spacing">plasmid</text>
<text x="372.0" y="22.8" font-size="12.8" font-style="italic" fill="#000" textLength="8.8" lengthAdjust="spacingAndGlyphs">1,</text>
<text x="386.0" y="22.8" font-size="12.8" font-style="italic" fill="#000" textLength="60.8" lengthAdjust="spacing">complete</text>
<text x="452.4" y="22.8" font-size="12.8" font-style="italic" fill="#000" textLength="63.0" lengthAdjust="spacing">sequence</text>
<text x="9.5" y="586.5" font-size="11.4" fill="#000" textLength="58.97" lengthAdjust="spacing">Accession:</text>
<text x="72.0" y="586.5" font-size="11.4" fill="#000" textLength="71.0" lengthAdjust="spacingAndGlyphs">NC_008688</text>
<text x="285.3" y="586.5" font-size="11.4" fill="#000" textLength="57.17" lengthAdjust="spacing">Topology:</text>
<text x="346.7" y="586.5" font-size="11.4" fill="#000" textLength="43.42" lengthAdjust="spacing">circular;</text>
<text x="395.5" y="586.5" font-size="11.4" fill="#000" textLength="39.73" lengthAdjust="spacing">Length:</text>
<text x="442.7" y="586.5" font-size="11.4" fill="#000" textLength="49.2" lengthAdjust="spacingAndGlyphs">653,815</text>
<text x="498.0" y="586.5" font-size="11.4" fill="#000" textLength="18.51" lengthAdjust="spacing">bp;</text>
<text x="522.0" y="586.5" font-size="11.4" fill="#000" textLength="39.78" lengthAdjust="spacing">Genes:</text>
<text x="566.8" y="586.5" font-size="11.4" fill="#000" textLength="21.58" lengthAdjust="spacingAndGlyphs">616</text>
</svg>
</body></html>
